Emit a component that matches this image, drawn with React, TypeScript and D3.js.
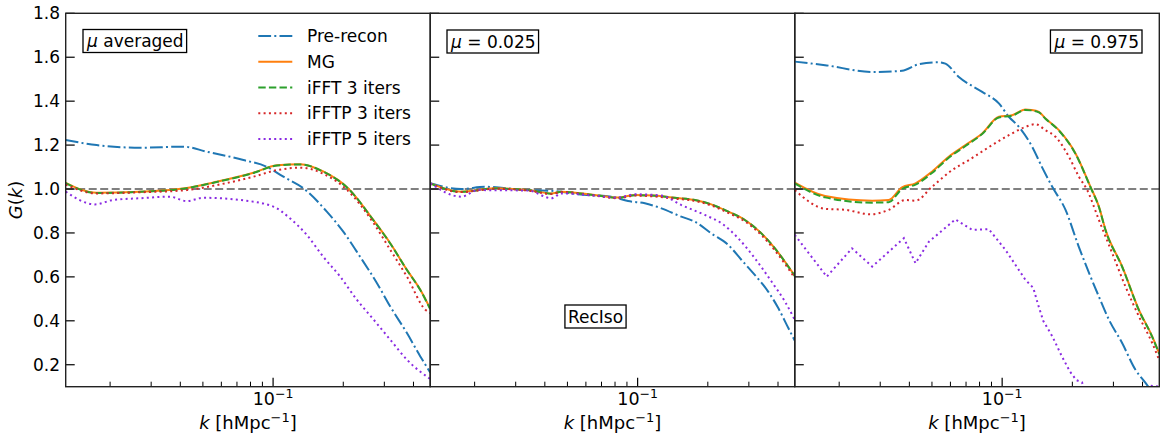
import React, { useLayoutEffect, useRef, useState } from 'react';
import * as d3 from 'd3';

type P = [number, number];

// ---------------- data (k [h/Mpc], G(k)) ----------------
const seriesNames = ['Pre-recon', 'MG', 'iFFT 3 iters', 'iFFTP 3 iters', 'iFFTP 5 iters'];
const seriesColors = ['#1f77b4', '#ff7f0e', '#2ca02c', '#d62728', '#8a2be2'];
const seriesDash: (string | null)[] = ['12.8,3.2,2,3.2', null, '7.4,3.2', '2,3.3', '2,3.3'];

const panelLabels = ['averaged', '0.025', '0.975'];
const yTickValues = [0.2, 0.4, 0.6, 0.8, 1.0, 1.2, 1.4, 1.6, 1.8];
const xMajorTicks = [0.1];
const xMinorTicks = [0.02, 0.03, 0.04, 0.05, 0.06, 0.07, 0.08, 0.09, 0.2, 0.3, 0.4];

// mu averaged
const avgPre: P[] = [[0.0129, 1.223], [0.0175, 1.2], [0.0269, 1.188], [0.0412, 1.193], [0.0519, 1.17], [0.0746, 1.132], [0.094, 1.101], [0.1107, 1.056], [0.135, 1.003], [0.17, 0.897], [0.2, 0.806], [0.236, 0.692], [0.279, 0.571], [0.318, 0.465], [0.375, 0.344], [0.428, 0.238], [0.472, 0.165]];
const avgMG: P[] = [[0.0129, 1.028], [0.0175, 0.983], [0.0269, 0.988], [0.0426, 1.005], [0.0573, 1.033], [0.0823, 1.074], [0.104, 1.108], [0.131, 1.113], [0.164, 1.08], [0.21, 1.003], [0.27, 0.857], [0.318, 0.753], [0.375, 0.632], [0.428, 0.541], [0.472, 0.455]];
const avgIFFT: P[] = [[0.0129, 1.027], [0.0175, 0.982], [0.0269, 0.987], [0.0426, 1.004], [0.0573, 1.032], [0.0823, 1.073], [0.104, 1.107], [0.131, 1.112], [0.164, 1.079], [0.21, 1.002], [0.27, 0.856], [0.318, 0.752], [0.375, 0.631], [0.428, 0.54], [0.472, 0.453]];
const avgIFFTP3: P[] = [[0.0129, 1.02], [0.0175, 0.98], [0.0269, 0.985], [0.0426, 0.995], [0.0573, 1.018], [0.0823, 1.056], [0.104, 1.086], [0.131, 1.097], [0.166, 1.067], [0.208, 0.995], [0.27, 0.844], [0.318, 0.723], [0.375, 0.601], [0.45, 0.45], [0.472, 0.435]];
const avgIFFTP5: P[] = [[0.0129, 0.988], [0.0172, 0.93], [0.0206, 0.95], [0.0269, 0.958], [0.0361, 0.965], [0.0426, 0.945], [0.0502, 0.96], [0.0722, 0.95], [0.1003, 0.92], [0.118, 0.867], [0.1395, 0.791], [0.164, 0.692], [0.194, 0.601], [0.229, 0.495], [0.27, 0.405], [0.318, 0.314], [0.375, 0.223], [0.472, 0.135]];

// mu = 0.025
const lowPre: P[] = [[0.0129, 1.026], [0.0175, 1.0], [0.0221, 1.01], [0.0339, 0.995], [0.0441, 0.991], [0.0555, 0.976], [0.0772, 0.965], [0.091, 0.945], [0.1074, 0.935], [0.1265, 0.912], [0.154, 0.874], [0.176, 0.851], [0.207, 0.798], [0.245, 0.745], [0.279, 0.677], [0.318, 0.609], [0.363, 0.533], [0.401, 0.458], [0.443, 0.367], [0.472, 0.31]];
const lowMG: P[] = [[0.0129, 1.026], [0.0175, 0.988], [0.0244, 1.003], [0.0339, 0.995], [0.0427, 0.98], [0.0471, 0.988], [0.0655, 0.973], [0.0825, 0.961], [0.0973, 0.973], [0.1185, 0.97], [0.144, 0.96], [0.176, 0.95], [0.207, 0.93], [0.245, 0.897], [0.289, 0.859], [0.34, 0.798], [0.388, 0.73], [0.428, 0.67], [0.472, 0.605]];
const lowIFFT: P[] = [[0.0129, 1.026], [0.0175, 0.987], [0.0244, 1.002], [0.0339, 0.995], [0.0427, 0.979], [0.0471, 0.987], [0.0655, 0.972], [0.0825, 0.96], [0.0973, 0.972], [0.1185, 0.969], [0.144, 0.96], [0.176, 0.95], [0.207, 0.93], [0.245, 0.897], [0.289, 0.858], [0.34, 0.797], [0.388, 0.73], [0.428, 0.669], [0.472, 0.604]];
const lowIFFTP3: P[] = [[0.0129, 1.024], [0.0175, 0.986], [0.0244, 1.001], [0.0339, 0.993], [0.0427, 0.977], [0.0471, 0.986], [0.0655, 0.97], [0.0825, 0.958], [0.0973, 0.97], [0.1185, 0.966], [0.144, 0.956], [0.176, 0.946], [0.207, 0.925], [0.245, 0.891], [0.289, 0.852], [0.34, 0.79], [0.388, 0.72], [0.428, 0.66], [0.472, 0.595]];
const lowIFFTP5: P[] = [[0.0129, 1.026], [0.0175, 0.965], [0.0207, 0.995], [0.0339, 0.993], [0.0427, 0.958], [0.0471, 0.98], [0.0655, 0.97], [0.0825, 0.961], [0.0973, 0.976], [0.1265, 0.97], [0.154, 0.927], [0.194, 0.882], [0.229, 0.844], [0.27, 0.776], [0.318, 0.685], [0.375, 0.579], [0.428, 0.488], [0.472, 0.405]];

// mu = 0.975
const highPre: P[] = [[0.0129, 1.58], [0.0174, 1.564], [0.0277, 1.533], [0.0372, 1.538], [0.0439, 1.568], [0.0535, 1.577], [0.0571, 1.571], [0.0652, 1.51], [0.0821, 1.442], [0.0968, 1.39], [0.1068, 1.329], [0.118, 1.283], [0.1345, 1.192], [0.148, 1.101], [0.164, 1.01], [0.187, 0.905], [0.213, 0.738], [0.236, 0.617], [0.26, 0.51], [0.287, 0.405], [0.327, 0.299], [0.373, 0.177], [0.412, 0.117], [0.45, 0.06]];
const highMG: P[] = [[0.0129, 1.029], [0.0174, 0.968], [0.0277, 0.947], [0.0326, 0.95], [0.0372, 1.008], [0.0425, 1.026], [0.05, 1.079], [0.059, 1.147], [0.0696, 1.2], [0.0821, 1.253], [0.0968, 1.329], [0.1104, 1.336], [0.1259, 1.362], [0.133, 1.36], [0.1437, 1.351], [0.1534, 1.321], [0.1751, 1.268], [0.2064, 1.162], [0.2393, 1.01], [0.26, 0.92], [0.2776, 0.814], [0.3273, 0.647], [0.386, 0.45], [0.44, 0.329], [0.472, 0.25]];
const highIFFT: P[] = [[0.0129, 1.026], [0.0174, 0.962], [0.0277, 0.938], [0.0326, 0.94], [0.0372, 1.0], [0.0425, 1.02], [0.05, 1.073], [0.059, 1.142], [0.0696, 1.196], [0.0821, 1.25], [0.0968, 1.326], [0.1104, 1.334], [0.1259, 1.36], [0.133, 1.358], [0.1437, 1.349], [0.1534, 1.32], [0.1751, 1.266], [0.2064, 1.16], [0.2393, 1.008], [0.26, 0.918], [0.2776, 0.812], [0.3273, 0.645], [0.386, 0.448], [0.44, 0.327], [0.472, 0.248]];
const highIFFTP3: P[] = [[0.0129, 0.995], [0.0174, 0.91], [0.0213, 0.905], [0.0272, 0.885], [0.0326, 0.905], [0.0385, 0.95], [0.0425, 0.947], [0.05, 1.01], [0.061, 1.086], [0.072, 1.132], [0.0906, 1.2], [0.1068, 1.245], [0.1259, 1.283], [0.139, 1.295], [0.1534, 1.268], [0.1693, 1.238], [0.1933, 1.147], [0.2134, 1.056], [0.2316, 0.995], [0.26, 0.859], [0.2965, 0.708], [0.338, 0.556], [0.386, 0.42], [0.44, 0.299], [0.472, 0.22]];
const highIFFTP5: P[] = [[0.0129, 0.791], [0.0177, 0.601], [0.0227, 0.73], [0.0277, 0.647], [0.0379, 0.776], [0.0425, 0.662], [0.0485, 0.76], [0.063, 0.862], [0.0743, 0.814], [0.0877, 0.817], [0.1033, 0.723], [0.1259, 0.586], [0.136, 0.55], [0.142, 0.48], [0.15, 0.4], [0.164, 0.33], [0.18, 0.24], [0.195, 0.17], [0.208, 0.13], [0.22, 0.12], [0.225, 0.09], [0.26, 0.05], [0.35, 0.05], [0.43, 0.105], [0.472, 0.1]];

const panelSeries: P[][][] = [
  [avgPre, avgMG, avgIFFT, avgIFFTP3, avgIFFTP5],
  [lowPre, lowMG, lowIFFT, lowIFFTP3, lowIFFTP5],
  [highPre, highMG, highIFFT, highIFFTP3, highIFFTP5],
];

const kDomain: [number, number] = [0.0129, 0.472];
const gDomain: [number, number] = [0.1, 1.8];

// ---------------- layout ----------------
const W = 1161;
const H = 437;
const LEFT = 65.7;
const RIGHT = 1159.3;
const TOP = 13.3;
const BOTTOM = 386.7;
const PW = (RIGHT - LEFT) / 3;
const FONT = 'DejaVu Sans, sans-serif';
const FS = 17;

function BoxedText(props: { x: number; y: number; anchor: 'start' | 'middle' | 'end'; children: React.ReactNode }) {
  const ref = useRef<SVGTextElement>(null);
  const [bb, setBb] = useState<{ x: number; y: number; w: number; h: number } | null>(null);
  useLayoutEffect(() => {
    if (ref.current) {
      const b = ref.current.getBBox();
      setBb({ x: b.x, y: b.y, w: b.width, h: b.height });
    }
  }, []);
  return (
    <g>
      {bb && (
        <rect x={bb.x - 3} y={bb.y - 1.5} width={bb.w + 6} height={bb.h + 3} fill="white" stroke="black" strokeWidth={1.3} />
      )}
      <text ref={ref} x={props.x} y={props.y} textAnchor={props.anchor} fontFamily={FONT} fontSize={FS} fill="black">
        {props.children}
      </text>
    </g>
  );
}

export default function App() {
  const y = d3.scaleLinear().domain(gDomain).range([BOTTOM, TOP]);
  const panels = [0, 1, 2].map((i) => {
    const x0 = LEFT + i * PW;
    const x = d3.scaleLog().domain(kDomain).range([x0, x0 + PW]);
    return { i, x0, x };
  });

  return (
    <svg width={W} height={H} style={{ position: 'absolute', left: 0, top: 0, background: 'white' }} xmlns="http://www.w3.org/2000/svg">
      <rect x={0} y={0} width={W} height={H} fill="white" />
      <defs>
        {panels.map((p) => (
          <clipPath key={p.i} id={`clip${p.i}`}>
            <rect x={p.x0} y={TOP} width={PW} height={BOTTOM - TOP} />
          </clipPath>
        ))}
      </defs>
      {panels.map((p) => {
        const smooth = d3
          .line<P>()
          .x((d) => p.x(d[0]))
          .y((d) => y(d[1]))
          .curve(d3.curveMonotoneX);
        const straight = d3
          .line<P>()
          .x((d) => p.x(d[0]))
          .y((d) => y(d[1]));
        return (
          <g key={p.i}>
            <g clipPath={`url(#clip${p.i})`}>
              <line x1={p.x0} x2={p.x0 + PW} y1={y(1)} y2={y(1)} stroke="#808080" strokeWidth={2} strokeDasharray="8,3.5" />
              {panelSeries[p.i].map((s, j) => {
                const gen = p.i === 2 && j === 4 ? straight : smooth;
                return (
                  <path
                    key={j}
                    d={gen(s) || ''}
                    fill="none"
                    stroke={seriesColors[j]}
                    strokeWidth={2}
                    strokeDasharray={seriesDash[j] || undefined}
                  />
                );
              })}
            </g>
            {/* y ticks (inward) */}
            {yTickValues.map((t) => (
              <line key={`yt${t}`} x1={p.x0} x2={p.x0 + 9} y1={y(t)} y2={y(t)} stroke="black" strokeWidth={1.2} />
            ))}
            {/* x ticks */}
            {xMajorTicks.map((t) => (
              <line key={`xM${t}`} x1={p.x(t)} x2={p.x(t)} y1={BOTTOM} y2={BOTTOM - 9} stroke="black" strokeWidth={1.2} />
            ))}
            {xMinorTicks.map((t) => (
              <line key={`xm${t}`} x1={p.x(t)} x2={p.x(t)} y1={BOTTOM} y2={BOTTOM - 5} stroke="black" strokeWidth={1} />
            ))}
            {/* frame */}
            <rect x={p.x0} y={TOP} width={PW} height={BOTTOM - TOP} fill="none" stroke="#222" strokeWidth={1.4} />
            {/* x tick labels */}
            {xMajorTicks.map((t) => (
              <text key={`xl${t}`} x={p.x(t)} y={405} textAnchor="middle" fontFamily={FONT} fontSize={17.5} fill="black">
                10<tspan dy={-7} fontSize={12.5}>−1</tspan>
              </text>
            ))}
            {/* x label */}
            <text x={p.x0 + PW / 2} y={429} textAnchor="middle" fontFamily={FONT} fontSize={18} fill="black">
              <tspan fontStyle="italic">k</tspan> [hMpc<tspan dy={-7} fontSize={13}>−1</tspan>
              <tspan dy={7}>]</tspan>
            </text>
          </g>
        );
      })}
      {/* y tick labels */}
      {yTickValues.map((t) => (
        <text key={`yl${t}`} x={60} y={y(t)} dy="0.36em" textAnchor="end" fontFamily={FONT} fontSize={FS} fill="black">
          {d3.format('.1f')(t)}
        </text>
      ))}
      {/* y label */}
      <text transform={`translate(22,${(TOP + BOTTOM) / 2}) rotate(-90)`} textAnchor="middle" fontFamily={FONT} fontSize={18} fill="black">
        <tspan fontStyle="italic">G</tspan>(<tspan fontStyle="italic">k</tspan>)
      </text>

      {/* panel annotations */}
      <BoxedText x={87} y={47} anchor="start">
        <tspan fontStyle="italic">μ</tspan> {panelLabels[0]}
      </BoxedText>
      <BoxedText x={451} y={47.5} anchor="start">
        <tspan fontStyle="italic">μ</tspan> = {panelLabels[1]}
      </BoxedText>
      <BoxedText x={1139} y={47.5} anchor="end">
        <tspan fontStyle="italic">μ</tspan> = {panelLabels[2]}
      </BoxedText>
      <BoxedText x={595.5} y={322.5} anchor="middle">
        RecIso
      </BoxedText>

      {/* legend */}
      {seriesNames.map((name, j) => {
        const ly = 36 + j * 25.75;
        return (
          <g key={name}>
            <line x1={258.3} x2={292.3} y1={ly} y2={ly} stroke={seriesColors[j]} strokeWidth={2} strokeDasharray={seriesDash[j] || undefined} />
            <text x={307} y={ly} dy="0.36em" fontFamily={FONT} fontSize={FS} fill="black">
              {name}
            </text>
          </g>
        );
      })}
    </svg>
  );
}
